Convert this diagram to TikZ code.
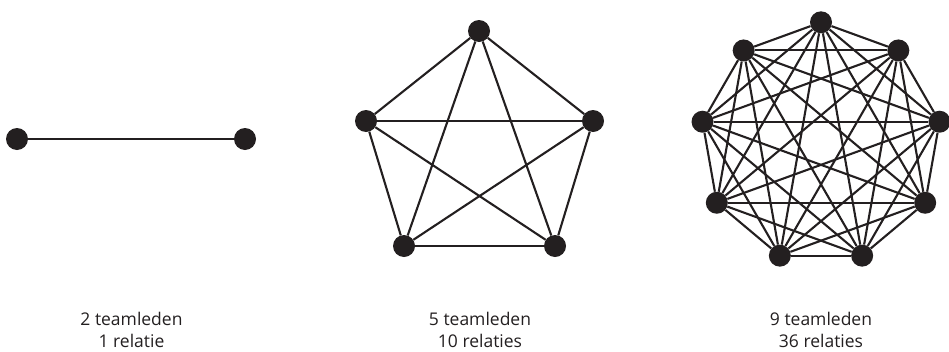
\documentclass[tikz,border=0pt]{standalone}
\usepackage{fontspec}
\setmainfont{Open Sans}
\definecolor{ink}{HTML}{231F20}
\begin{document}
\begin{tikzpicture}[x=1pt, y=-1pt,
    dot/.style={circle, fill=ink, inner sep=0pt, minimum size=22pt},
    link/.style={draw=ink, line width=2.1pt},
    caption/.style={align=center, text=ink, font=\fontsize{17.5}{21.5}\selectfont}]
    \useasboundingbox (0,0) rectangle (949,351);

    % Two members
    \node[dot] (a1) at (17,139) {};
    \node[dot] (a2) at (245,139) {};
    \draw[link] (a1) -- (a2);

    % Five members
    \node[dot] (b1) at (479,31) {};
    \node[dot] (b2) at (593,121) {};
    \node[dot] (b3) at (555,246) {};
    \node[dot] (b4) at (404,246) {};
    \node[dot] (b5) at (366,121) {};
    \foreach \i [evaluate=\i as \n using int(\i+1)] in {1,...,4}
      \foreach \j in {\n,...,5}
        \draw[link] (b\i) -- (b\j);

    % Nine members
    \foreach \k in {1,...,9}
      \node[dot] (c\k) at ({821+120.3*cos(50+40*\k)}, {142.6-120.3*sin(50+40*\k)}) {};
    \foreach \i [evaluate=\i as \n using int(\i+1)] in {1,...,8}
      \foreach \j in {\n,...,9}
        \draw[link] (c\i) -- (c\j);

    % Captions
    \node[caption] (ta) at (131.5,330) {2 teamleden\\1 relatie};
    \node[caption] (tb) at (480,330) {5 teamleden\\10 relaties};
    \node[caption] (tc) at (821,330) {9 teamleden\\36 relaties};
\end{tikzpicture}
\end{document}
